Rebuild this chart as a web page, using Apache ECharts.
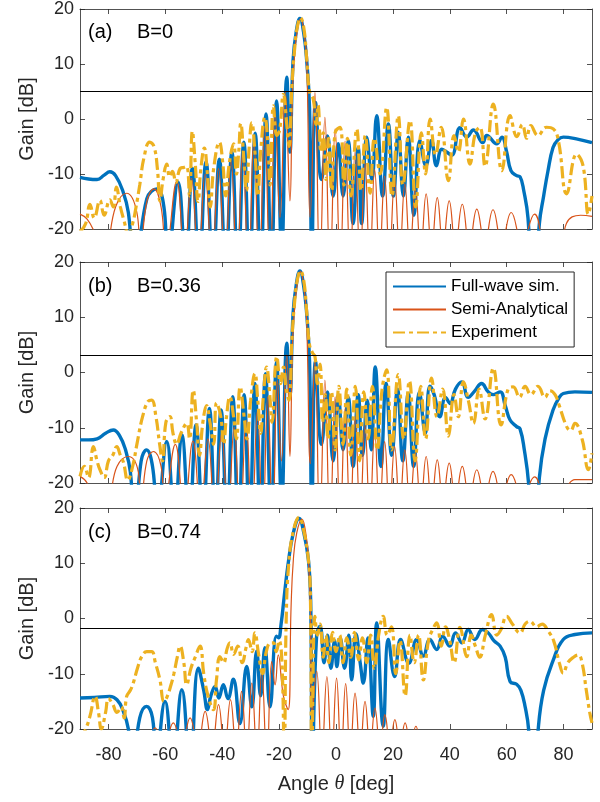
<!DOCTYPE html>
<html><head><meta charset="utf-8">
<script src="https://cdn.jsdelivr.net/npm/echarts@6.0.0/dist/echarts.min.js"></script>
<style>html,body{margin:0;padding:0;background:#fff}#chart{width:600px;height:802px}</style>
</head><body><div id="chart"></div>
<script>
// ---------- data (angle [deg], gain [dB]) ----------
const fullWaveA = [[-90,-10.6],[-87,-10.9],[-84,-11.0],[-81.5,-10.2],[-79.5,-9.6],[-77.5,-10.3],[-75,-13],[-73,-17],[-70.8,-28],[-66.5,-14.5],[-63,-12.7],[-60.5,-16],[-59.2,-26],[-55.5,-11.5],[-52.9,-26],[-50.5,-9.0],[-48.1,-27],[-45.7,-7.8],[-43.3,-27],[-41.0,-7.3],[-38.8,-27],[-36.6,-6.0],[-34.5,-28],[-32.4,-4.2],[-30.4,-28],[-28.4,-2.6],[-26.5,-28],[-24.6,0.9],[-22.7,-26],[-20.9,3.3],[-19.1,-24],[-17.3,7.6],[-16.2,-6],[-15.1,10.6],[-14,15.8],[-12.7,18.3],[-11.4,15.8],[-10.3,10.6],[-9.3,2],[-8.5,-25],[-7.2,3.0],[-5.1,-11],[-3.0,-3.1],[-1.0,-14],[0.8,-4.5],[2.5,-14],[4.3,-4],[6.0,-19],[7.8,-5.2],[9.0,-19],[10.8,-3.3],[12.6,-11],[14.3,0.6],[16.4,-14],[18.4,-0.9],[20.2,-14],[21.9,-2.4],[23.7,-14],[25.4,-3.3],[27.4,-17.5],[29.5,-3.9],[31.6,-8.5],[33.6,-3.9],[35.3,-8.5],[37.2,-5.5],[38.9,-6.0],[40.7,-6.6],[43.6,-1.6],[46,-3.3],[48.3,-2.0],[51.6,-4.3],[53,-3.0],[56.5,-4.5],[58.3,-3.3],[60,-6],[61.5,-9.4],[63.5,-10.3],[64.7,-10.5],[66,-13],[67.5,-18],[69.4,-35],[71.5,-19],[73,-14],[74.5,-9.5],[76.3,-5.2],[78,-3.8],[79.9,-3.3],[84.5,-3.6],[90,-4.3]];
const semiAnalyticalA = [[-90,-17.3],[-87.5,-18.2],[-85,-20.5],[-81.5,-25],[-77.5,-16],[-73.6,-13.5],[-70,-17],[-68.8,-24],[-66.5,-15],[-64.0,-12.7],[-61.5,-16],[-59.8,-24],[-56.0,-11.3],[-53.3,-25],[-50.8,-10.8],[-48.4,-25],[-46.0,-10.0],[-43.6,-26],[-41.3,-9.0],[-39.0,-26],[-36.9,-7.5],[-34.8,-27],[-32.8,-5.8],[-30.8,-28],[-28.9,-3.8],[-27.0,-28],[-25.1,-1.5],[-23.2,-28],[-21.4,1.5],[-19.7,-17.9],[-17.8,5.0],[-16.2,-14.9],[-15.3,5],[-14.5,12],[-13.5,16.5],[-12.4,18.2],[-11.3,16],[-10.3,10.5],[-9.1,-17.9],[-7.4,4.8],[-5.7,-28],[-3.9,0.3],[-2.1,-28],[-0.3,-1.8],[1.5,-27],[3.2,-4.0],[5.0,-27],[6.7,-6.0],[8.5,-26],[10.2,-8.0],[11.9,-26],[13.6,-9.2],[15.3,-25],[17.1,-10.4],[18.8,-25],[20.6,-11.0],[22.4,-24.5],[24.2,-11.8],[26.0,-24],[27.9,-12.8],[29.8,-24],[31.7,-13.6],[33.6,-23.5],[35.6,-14.3],[37.6,-23],[39.8,-14.9],[42.0,-23],[44.4,-15.5],[46.9,-23],[49.5,-16.4],[52.3,-22.5],[55.2,-16.5],[58.3,-22.5],[61.6,-17.0],[65.5,-22.5],[69.8,-17.3],[74.5,-24],[79,-22.5],[81,-19],[83,-17.8],[86,-17.5],[90,-17.7]];
const experimentA = [[-90,-20.5],[-88,-19],[-86.5,-15.5],[-85,-18],[-83,-14.8],[-81.5,-17.5],[-79.5,-14.7],[-78.3,-16],[-77.2,-12.4],[-75.8,-16],[-74.5,-18.5],[-73,-21],[-71.5,-19],[-70.3,-16],[-69,-12],[-67.5,-7],[-65.5,-4.2],[-64,-5.0],[-62.8,-9],[-61.9,-14.9],[-60.8,-11],[-59.5,-8.2],[-58.5,-10.5],[-57.5,-9.5],[-56.3,-11.5],[-54.8,-9],[-53.5,-8.8],[-52.5,-8.6],[-51.5,-14],[-50.5,-2.2],[-49.5,-8],[-48.5,-15],[-47.5,-9],[-46.3,-5.3],[-45.2,-10],[-44.2,-16],[-43,-9],[-41,-4.2],[-39.8,-8],[-38.8,-14],[-37.5,-8],[-36,-4.5],[-35,-10],[-34.2,-6],[-33.5,-0.8],[-32.3,-8],[-31.5,-13],[-30.5,-5],[-29.6,-0.7],[-28.5,-6],[-27.5,-14],[-26.5,-6],[-25,0.3],[-24,-4],[-23.2,-12],[-22,2.4],[-20.8,-3],[-19.8,-2],[-18.5,4.5],[-17.3,-1],[-16.5,-5],[-15.5,6],[-14.5,13],[-13.5,17],[-12.5,18.4],[-11.3,16.5],[-10.3,11],[-9.3,5],[-8.0,3.6],[-7.0,-1],[-6.3,2.5],[-5.3,-6],[-4.5,-2.5],[-3.5,-11],[-2.6,-3.5],[-1.5,-13],[-0.3,-2.5],[1.4,-1.5],[2.8,-12],[4.0,-3.5],[5.3,-14],[7.3,-1.8],[8.8,-13],[10.3,-3],[12,-13.5],[13.5,-3.5],[15.5,-10],[17.8,2.1],[19.7,-14],[21.9,0.6],[23.5,-12],[26,-0.3],[28,-16],[30,-2.5],[31.5,-10],[33.1,0],[35,-6.5],[37,-1.5],[39.5,-11.2],[41.5,-3],[43,-6],[44.8,0],[47.1,-8.2],[49,-2.5],[50.6,-1.5],[52.4,-8.6],[55.3,2.7],[58.3,-9.4],[61.2,0.6],[63.6,-3.2],[65.5,-1.0],[67,-3.5],[68.5,-1.2],[71,-3],[74,-1.5],[76.4,-1.8],[78.2,-4],[81.1,-13.6],[84.6,-6.4],[86.9,-8.6],[88.7,-17.3],[90,-14]];

const fullWaveB = [[-90,-12.2],[-87,-12.2],[-84,-12.0],[-81,-11.0],[-78.3,-10.4],[-76,-11.5],[-74,-14],[-72.3,-18],[-70.8,-28],[-68.5,-16],[-66.6,-14.0],[-64.5,-17],[-62.8,-26],[-59.5,-12.5],[-56.8,-26],[-54.2,-11.3],[-51.6,-27],[-49.2,-9.5],[-46.8,-27],[-44.5,-6.5],[-42.4,-27],[-40.4,-6.8],[-38.3,-27],[-36.3,-4.4],[-34.3,-28],[-32.3,-4.0],[-30.4,-28],[-28.5,-2.0],[-26.6,-27],[-24.8,-0.2],[-22.8,-26],[-20.9,1.9],[-19.1,-24],[-17.3,5.3],[-16.2,-4],[-15.1,10.6],[-14,15.8],[-12.7,18.4],[-11.4,15.8],[-10.3,10.6],[-9.3,2],[-8.5,-25],[-7.2,2.0],[-5.1,-13],[-3.0,-3.5],[-1.0,-16],[0.8,-4.0],[2.5,-14],[4.3,-4.5],[6.0,-17],[7.8,-4.0],[9.3,-15],[11.0,-5],[12.4,-14],[13.8,1.0],[15.8,-17],[17.6,-2.0],[19.6,-15],[21.6,-3.0],[23.5,-16],[25.4,-3.8],[27.3,-17],[29.3,-3.5],[31.4,-11],[33.0,-2.5],[34.5,-4],[36.5,-8],[38.5,-4.5],[40.1,-5.6],[42,-3],[44.2,-1.7],[46.5,-4.5],[48.5,-3.5],[51.2,-2.0],[53.5,-3.5],[55.3,-4.0],[57.7,-3.5],[59.5,-6],[61.2,-8.6],[63.5,-9.8],[64.7,-10.2],[66.2,-14],[67.7,-20],[69.5,-35],[71.5,-19],[73.5,-12],[76.3,-6.8],[78.5,-4.5],[79.9,-3.8],[84,-3.5],[90,-3.6]];
const semiAnalyticalB = [[-90,-18.8],[-87.5,-20],[-85,-24],[-81,-24],[-77,-17],[-73,-15.2],[-69.5,-18],[-68.6,-24],[-66.5,-16],[-64.2,-14.3],[-61.5,-17],[-60.3,-24],[-56.5,-13.0],[-53.4,-25],[-50.3,-12.4],[-47.6,-25],[-45.0,-12.0],[-42.6,-26],[-40.2,-11.0],[-38.0,-26],[-35.8,-9.9],[-33.7,-27],[-31.6,-8.6],[-29.6,-27],[-27.6,-6.8],[-25.8,-28],[-24.0,-4.4],[-22.3,-28],[-20.6,-1.4],[-19.2,-16],[-17.3,3.2],[-16.2,-15.2],[-15.3,5],[-14.5,12],[-13.5,16.5],[-12.5,18.3],[-11.4,16],[-10.4,10.5],[-9.0,-16.5],[-7.4,2.3],[-5.7,-28],[-3.9,-1.4],[-2.1,-28],[-0.3,-4.4],[1.5,-27],[3.2,-6.5],[5.0,-27],[6.7,-8.0],[8.5,-26],[10.2,-9.5],[11.9,-26],[13.6,-10.7],[15.3,-25],[17.1,-12.5],[18.8,-25],[20.6,-13.4],[22.4,-24.5],[24.2,-14.0],[26.0,-24],[27.9,-14.6],[29.8,-24],[31.7,-15.2],[33.6,-23.5],[35.6,-15.8],[37.6,-23],[39.8,-16.4],[42.0,-23],[44.4,-17.0],[46.9,-23],[49.5,-17.6],[52.3,-22.5],[55.2,-17.9],[58.3,-22.5],[61.6,-18.5],[65.5,-22.5],[69.8,-18.9],[74.5,-24],[79,-23],[81.5,-20.5],[84,-19.4],[90,-19.4]];
const experimentB = [[-90,-18.8],[-88.5,-17],[-87,-19],[-85.3,-13.4],[-84,-16],[-83,-17.6],[-81.5,-19],[-80,-16],[-78.5,-15],[-77.1,-13.4],[-75.8,-15],[-74.7,-16.3],[-73.2,-19.5],[-71.5,-17],[-70,-13],[-68,-8],[-66,-5.2],[-64.8,-5.0],[-63.3,-8],[-62,-13],[-61,-16],[-59.8,-9],[-58.4,-8.0],[-57.3,-11],[-56,-13],[-54.5,-11],[-52.5,-9.2],[-51.5,-12],[-50.2,-3.2],[-49,-9],[-48,-15],[-46.8,-9],[-45.5,-6],[-44.3,-9],[-43,-13],[-42,-5.5],[-40.5,-8],[-39.5,-13],[-38.5,-8],[-37.3,-4.4],[-36,-8],[-35,-12],[-33.7,-2.6],[-32.3,-8],[-31.3,-12],[-30,-5],[-28.5,-0.2],[-27.5,-5],[-26.5,-11],[-25.5,-4],[-24.4,1.0],[-23.3,-4],[-22.5,-9],[-20.8,2.9],[-19.5,-2],[-18.5,1],[-17.5,-3],[-16.5,-5],[-15.5,6],[-14.5,13],[-13.5,17],[-12.5,18.4],[-11.3,16.5],[-10.3,11],[-9.3,5],[-8.2,3.5],[-7.4,2.9],[-6.5,-2],[-5.6,1.5],[-4.7,-9],[-3.8,-4],[-2.8,-12],[-1.6,-3.5],[-0.3,-14],[1.0,-2.5],[2.5,-13],[3.8,-3.0],[5.2,-15],[6.8,-2.5],[8.3,-16],[9.8,-3.5],[11.3,-12],[12.8,-2.5],[14.5,-14],[16.2,-3],[17.8,0.5],[19.5,-14],[21.9,-0.4],[23.8,-12],[25.8,-1.5],[27.8,-16],[29.8,-2.5],[31.5,-12],[33.6,-1.0],[35.5,-8],[37.5,-3],[39.5,-11.5],[41.5,-4],[43,-8],[44.8,-1.7],[46.5,-5],[48.3,-9.2],[50.3,-3],[52.4,-8.4],[55.3,0.8],[58,-9.5],[60.5,-3],[62.3,-2.6],[64.5,-4.5],[66.5,-2.5],[68.5,-4],[71,-2.5],[73.5,-4.5],[75.2,-3.3],[77,-4],[78.5,-6],[81.1,-9.8],[82.5,-10.5],[84,-9.2],[86.5,-12],[88.7,-17.6],[90,-14.6]];

const fullWaveC = [[-90,-14.4],[-85,-14.3],[-79.5,-14.1],[-77,-14.7],[-75,-16.5],[-73,-20],[-71.5,-27],[-69,-18],[-66.6,-15.9],[-64.5,-18],[-63.3,-26],[-60.1,-15.0],[-57.3,-26],[-54.2,-12.9],[-51.3,-27],[-48.4,-9.0],[-46.5,-13],[-45.2,-16.5],[-44,-14],[-42.5,-12.3],[-41.2,-14.4],[-39.6,-12],[-38,-14.5],[-36.1,-11],[-33.8,-19],[-31.4,-8.7],[-29.6,-16],[-27.9,-5.9],[-26.5,-14],[-25,-5.3],[-23.2,-16],[-21,-3.2],[-20.2,-3.5],[-19.3,-1],[-18.2,4],[-16.8,10],[-15,15.5],[-13.0,18.1],[-11.3,15.5],[-9.7,10.6],[-8.9,3],[-8.3,-25],[-6.8,-3],[-5.6,-1.4],[-4.2,-8],[-3.0,-3.0],[-1.8,-9],[-0.5,-4.0],[0.3,-8.7],[1.5,-3.5],[3.0,-9],[4.5,-3],[5.5,-11.1],[7.0,-2.8],[8.5,-8],[9.6,-11.7],[11.2,-3.5],[13.1,-17.7],[14.3,-0.8],[16.6,-19.5],[18.4,-3.8],[20.6,-10.5],[22.7,-3.8],[25.6,-8.1],[28.4,-3.8],[30.7,-6.8],[33,-3.8],[35.4,-5.6],[37.5,-3.2],[40,-5.0],[42,-2.6],[44.3,-4.4],[46.5,-2.0],[48.8,-3.8],[51.5,-2.0],[53.5,-2.6],[55.5,-4.0],[57.7,-5.0],[59.5,-7],[61.2,-11.4],[63.5,-11.9],[65,-13],[66.5,-16],[67.7,-20],[69.3,-35],[71.1,-20],[73,-13],[76.4,-7.5],[79.9,-3.8],[84,-2.9],[90,-2.6]];
const semiAnalyticalC = [[-90,-30],[-66.8,-24],[-63.6,-19.8],[-60.4,-23],[-57.2,-18.9],[-54.2,-23],[-51.3,-18.0],[-48.6,-23],[-46.0,-16.8],[-43.6,-23.5],[-41.3,-15.6],[-39.2,-24],[-37.1,-14.7],[-35.1,-24],[-33.2,-13.2],[-31.4,-24.5],[-29.6,-11.7],[-27.8,-25],[-26.1,-9.6],[-24.3,-26],[-22.6,-7.8],[-21.4,-12],[-20.3,-6.6],[-18.5,-14],[-16.8,-16.5],[-15.8,2],[-15.0,10.6],[-13.8,15.5],[-12.0,18.0],[-10.5,15],[-9.7,10.6],[-9.0,2],[-8.5,-18.3],[-6.8,-9.5],[-5.0,-25],[-3.2,-10.5],[-1.5,-25],[0.2,-10.8],[1.8,-25],[3.4,-11.8],[5.0,-24.5],[6.7,-13.5],[8.5,-24],[10.2,-15],[12.0,-24],[13.7,-16.2],[15.5,-23.5],[17.2,-17.4],[19.0,-23],[20.7,-18.3],[22.5,-23],[24.3,-18.9],[26.2,-23],[28.1,-19.5],[30,-23],[32,-20.6],[34,-30],[90,-30]];
const experimentC = [[-90,-22],[-88,-20],[-86.5,-17.7],[-84.7,-14.1],[-83.5,-17],[-82.5,-20],[-81,-17],[-80,-14.5],[-78.5,-15.5],[-77,-17],[-75.5,-16],[-74.5,-18],[-73.6,-14.1],[-72.3,-13],[-71.3,-11.7],[-69.8,-9],[-68.3,-6.9],[-66.5,-6.0],[-64.8,-6.0],[-63.5,-8],[-61.9,-11.1],[-60.5,-15],[-59.5,-14.3],[-58,-12],[-57,-10],[-55.8,-7],[-54.8,-5.0],[-53.5,-8],[-52.5,-12],[-51,-9],[-49.5,-7],[-47.8,-5.0],[-46.5,-10],[-45,-14],[-43.1,-16.5],[-42,-11],[-40.8,-6.9],[-39.5,-8],[-38.3,-5.5],[-37.3,-4.4],[-36,-6.5],[-34.5,-5.0],[-33,-8],[-31.5,-5],[-30.8,-3.8],[-29.5,-6],[-28.5,-2.6],[-27.2,-6.5],[-25.8,-10],[-24.5,-6],[-23,-4.4],[-22,-4.4],[-21,-6],[-20,-4],[-19,-8],[-18.2,-25],[-17.5,0],[-16.6,10],[-15,15.8],[-13,18.3],[-11.3,15.8],[-9.7,10.6],[-9,4],[-8.5,-25],[-7.4,0.4],[-6.5,-3],[-5.6,-1],[-4.5,-7],[-3.5,-3],[-2.5,-8],[-1.2,-2.5],[0,-6],[1.3,-3],[2.5,-8],[3.8,-3.5],[5.2,-7],[6.5,-2.5],[8,-7.5],[9.3,-3.5],[10.8,-8],[12.2,-3],[13.5,-9],[15,-3],[16.6,0.4],[18,-3],[19.5,-1.5],[21,-10],[22.5,-4],[24.3,-14],[26,-3],[27.5,-8],[29,-3],[30.7,-11.1],[32.5,-4],[34,-2],[35.4,-0.8],[37,-5],[38.5,-1.5],[40,-4],[41.5,-8],[43.6,-1.6],[46,-6.9],[47.5,-3],[49,-5],[50.5,-7],[52.5,-3],[54.7,0.7],[56.5,-3],[58,-2],[60,0.4],[62,-1],[64.7,-2.6],[66.5,-1],[68.2,-0.5],[70.5,-1.5],[72.5,-1],[74.5,-2.2],[76.5,-4],[78.5,-8],[79.9,-9.9],[81.5,-8],[83.5,-7],[85.2,-6.6],[86.5,-8],[88,-13],[89.2,-17],[90,-18.9]];

const xTicks = [-80,-60,-40,-20,0,20,40,60,80];
const yTicks = [-20,-10,0,10,20];
const refLevels = [5.0, 3.2, -1.7];
const panelTags = ['(a)','(b)','(c)'];
const panelB = ['B=0','B=0.36','B=0.74'];
const seriesNames = ['Full-wave sim.','Semi-Analytical','Experiment'];
const panelData = [
  [fullWaveA, semiAnalyticalA, experimentA],
  [fullWaveB, semiAnalyticalB, experimentB],
  [fullWaveC, semiAnalyticalC, experimentC]
];

// ---------- layout / style ----------
const FONT = 'Liberation Sans, Arial, Helvetica, sans-serif';
const AX = '#262626';
const gridTops = [8, 262, 508];
const gridH = 221;
const colors = ['#0072BD', '#D95319', '#EDB120'];
const widths = [3.4, 1.2, 3.2];
const types = ['solid', 'solid', [12, 4, 4, 4]];

const grid = gridTops.map(t => ({ left: 80, width: 512, top: t, height: gridH }));

function xAx(i, pos) {
  const bottomLabels = pos === 'bottom' && i === 2;
  return {
    type: 'value', gridIndex: i, position: pos, min: -90, max: 90,
    axisLine: { show: true, onZero: false, lineStyle: { color: AX, width: 0.8 } },
    axisTick: { show: true, inside: true, length: 5, customValues: xTicks, lineStyle: { color: AX, width: 0.8 } },
    axisLabel: { show: bottomLabels, customValues: xTicks, fontSize: 18, color: AX, fontFamily: FONT, margin: 17 },
    splitLine: { show: false },
    name: bottomLabels ? '{n|Angle }{t|θ}{n| [deg]}' : '',
    nameLocation: 'middle', nameGap: 45,
    nameTextStyle: { rich: {
      n: { fontSize: 20, color: AX, fontFamily: FONT },
      t: { fontSize: 20, color: AX, fontFamily: 'Liberation Serif, DejaVu Serif, serif', fontStyle: 'italic' }
    } }
  };
}
function yAx(i, pos) {
  const left = pos === 'left';
  return {
    type: 'value', gridIndex: i, position: pos, min: -20, max: 20, interval: 10,
    axisLine: { show: true, onZero: false, lineStyle: { color: AX, width: 0.8 } },
    axisTick: { show: true, inside: true, length: 5, lineStyle: { color: AX, width: 0.8 } },
    axisLabel: { show: left, fontSize: 18, color: AX, fontFamily: FONT, margin: 6 },
    splitLine: { show: false },
    name: left ? 'Gain [dB]' : '', nameLocation: 'middle', nameGap: 42,
    nameTextStyle: { fontSize: 20, color: AX, fontFamily: FONT }
  };
}

const xAxis = [0,1,2].map(i => xAx(i, 'bottom')).concat([0,1,2].map(i => xAx(i, 'top')));
const yAxis = [0,1,2].map(i => yAx(i, 'left')).concat([0,1,2].map(i => yAx(i, 'right')));

const series = [];
panelData.forEach((arr, p) => {
  arr.forEach((d, k) => {
    const s = {
      type: 'line', name: seriesNames[k], xAxisIndex: p, yAxisIndex: p, data: d,
      symbol: 'none', showSymbol: false, smooth: 0.45, clip: true, z: 2 + k,
      lineStyle: { color: colors[k], width: widths[k], type: types[k], cap: 'butt' },
      itemStyle: { color: colors[k] }, animation: false
    };
    if (k === 2) {
      s.markLine = {
        silent: true, symbol: ['none', 'none'], animation: false,
        label: { show: false },
        lineStyle: { color: '#000', width: 1, type: 'solid' },
        data: [{ yAxis: refLevels[p] }]
      };
    }
    series.push(s);
  });
});

const title = [];
gridTops.forEach((t, p) => {
  title.push({ text: panelTags[p], left: 88, top: t + 14, padding: 0,
    textStyle: { fontSize: 20, fontWeight: 'normal', color: '#000', fontFamily: FONT } });
  title.push({ text: panelB[p], left: 137, top: t + 14, padding: 0,
    textStyle: { fontSize: 20, fontWeight: 'normal', color: '#000', fontFamily: FONT } });
});

const option = {
  animation: false,
  backgroundColor: '#fff',
  title: title,
  grid: grid,
  xAxis: xAxis,
  yAxis: yAxis,
  legend: {
    data: seriesNames, orient: 'vertical', left: 386, top: 272,
    padding: [6, 6, 6, 6], itemWidth: 53, itemHeight: 12, itemGap: 6,
    borderColor: AX, borderWidth: 1, backgroundColor: '#fff', selectedMode: false,
    itemStyle: { opacity: 0 },
    textStyle: { fontSize: 17, color: '#000', fontFamily: FONT }
  },
  series: series
};

const chart = echarts.init(document.getElementById('chart'), null, { renderer: 'canvas' });
chart.setOption(option);
</script></body></html>
